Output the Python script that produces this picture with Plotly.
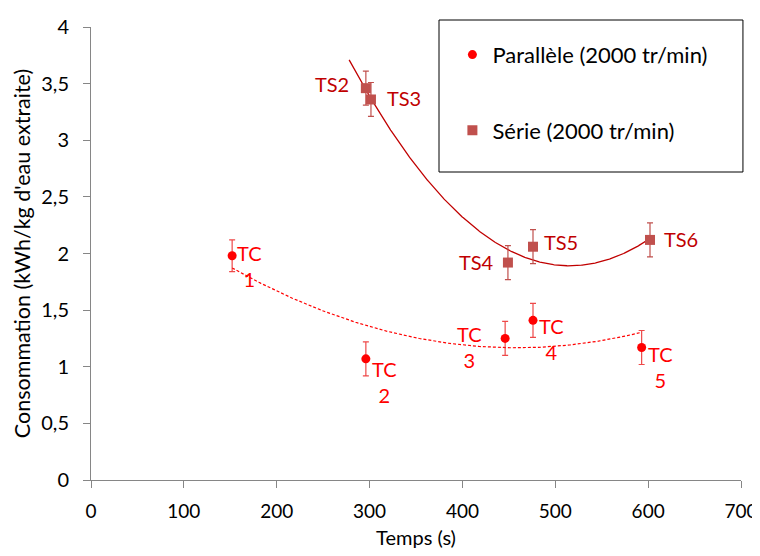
import numpy as np
import plotly.graph_objects as go

# ---------------- data ----------------
par_name = "Parallèle (2000 tr/min)"
par_x = [152, 296, 446, 476, 593]
par_y = [1.98, 1.07, 1.25, 1.41, 1.17]
par_err = [0.14, 0.15, 0.15, 0.15, 0.15]
par_labels = ["TC\n1", "TC\n2", "TC\n3", "TC\n4", "TC\n5"]

ser_name = "Série (2000 tr/min)"
ser_x = [296, 301.5, 449, 476, 602]
ser_y = [3.46, 3.36, 1.92, 2.06, 2.12]
ser_err = [0.15, 0.15, 0.15, 0.15, 0.15]
ser_labels = ["TS2", "TS3", "TS4", "TS5", "TS6"]

x_title = "Temps (s)"
y_title = "Consommation (kWh/kg d'eau extraite)"

# ---------------- style ----------------
FONT = "Lato, 'Open Sans', sans-serif"
RED = "#FF0000"
SER = "#C0504D"
SER_TXT = "#C00000"
par_offsets = [(17, 10), (19, 23), (-36, 9), (18, 19), (19, 19)]   # (dx, dy) px, dy down
ser_offsets = [(-34, -4), (33, -1), (-31, -1), (28, -5), (31, -1)]
ser_backcast = 18  # trendline backward extension (s)

fig = go.Figure()

# polynomial (order 2) trendlines computed from the data
pc = np.polyfit(par_x, par_y, 2)
tx = np.linspace(min(par_x), max(par_x), 200)
fig.add_trace(go.Scatter(x=tx, y=np.polyval(pc, tx), mode="lines",
                         line=dict(color=RED, width=1.2, dash="3px,2px"),
                         showlegend=False, hoverinfo="skip"))
sc = np.polyfit(ser_x, ser_y, 2)
sx = np.linspace(min(ser_x) - ser_backcast, max(ser_x), 400)
fig.add_trace(go.Scatter(x=sx, y=np.polyval(sc, sx), mode="lines",
                         line=dict(color=SER_TXT, width=1.3),
                         showlegend=False, hoverinfo="skip"))

fig.add_trace(go.Scatter(x=par_x, y=par_y, mode="markers", name=par_name,
                         legendgroup="a",
                         marker=dict(symbol="circle", size=9, color=RED),
                         error_y=dict(type="data", array=par_err, color="rgba(235,40,40,0.85)",
                                      thickness=1.2, width=3)))
fig.add_trace(go.Scatter(x=ser_x, y=ser_y, mode="markers", name=ser_name,
                         legendgroup="b",
                         marker=dict(symbol="square", size=10, color=SER),
                         error_y=dict(type="data", array=ser_err, color=SER,
                                      thickness=1.2, width=3)))

annotations = []
for x, y, t, (dx, dy) in zip(par_x, par_y, par_labels, par_offsets):
    annotations.append(dict(x=x, y=y, text=t.replace("\n", "<br>"), showarrow=False,
                            xshift=dx, yshift=-dy, align="center",
                            font=dict(family=FONT, size=20, color=RED)))
for x, y, t, (dx, dy) in zip(ser_x, ser_y, ser_labels, ser_offsets):
    annotations.append(dict(x=x, y=y, text=t, showarrow=False,
                            xshift=dx, yshift=-dy,
                            font=dict(family=FONT, size=20, color=SER_TXT)))

# page body adds an 8px margin, so the figure is 752x548 to fill the 760x556 window
fig.update_layout(
    width=752, height=548,
    margin=dict(l=83, r=19, t=19, b=76, autoexpand=False),
    paper_bgcolor="white", plot_bgcolor="white",
    separators=", ",
    font=dict(family=FONT, size=20, color="black"),
    annotations=annotations,
    showlegend=True,
    legend=dict(x=0.556, y=0.985, xanchor="left", yanchor="top",
                bgcolor="rgba(0,0,0,0)", borderwidth=0,
                font=dict(family=FONT, size=22, color="black"),
                tracegroupgap=44, traceorder="grouped"),
    shapes=[
        dict(type="rect", xref="paper", yref="paper", x0=0.5354, x1=1.003,
             y0=(480 - 172) / 453, y1=(480 - 20) / 453,
             line=dict(color="black", width=1), layer="above"),
    ],
    xaxis=dict(range=[0, 700], dtick=100, tick0=0, showgrid=False, zeroline=False,
               showline=True, linecolor="#868686", linewidth=1,
               ticks="outside", ticklen=7, tickcolor="#868686",
               ticklabelstandoff=7, ticklabeloverflow="allow",
               tickfont=dict(family=FONT, size=19), automargin=False,
               title=dict(text=x_title, font=dict(family=FONT, size=20), standoff=10)),
    yaxis=dict(range=[0, 4], dtick=0.5, tick0=0,
               showgrid=False, zeroline=False, showline=True,
               linecolor="#868686", linewidth=1,
               ticks="outside", ticklen=7, tickcolor="#868686",
               ticklabelstandoff=10,
               tickformat="~g", automargin=False,
               tickfont=dict(family=FONT, size=20),
               title=dict(text=y_title, font=dict(family=FONT, size=21.5), standoff=4)),
)

fig.write_html("out.html")
